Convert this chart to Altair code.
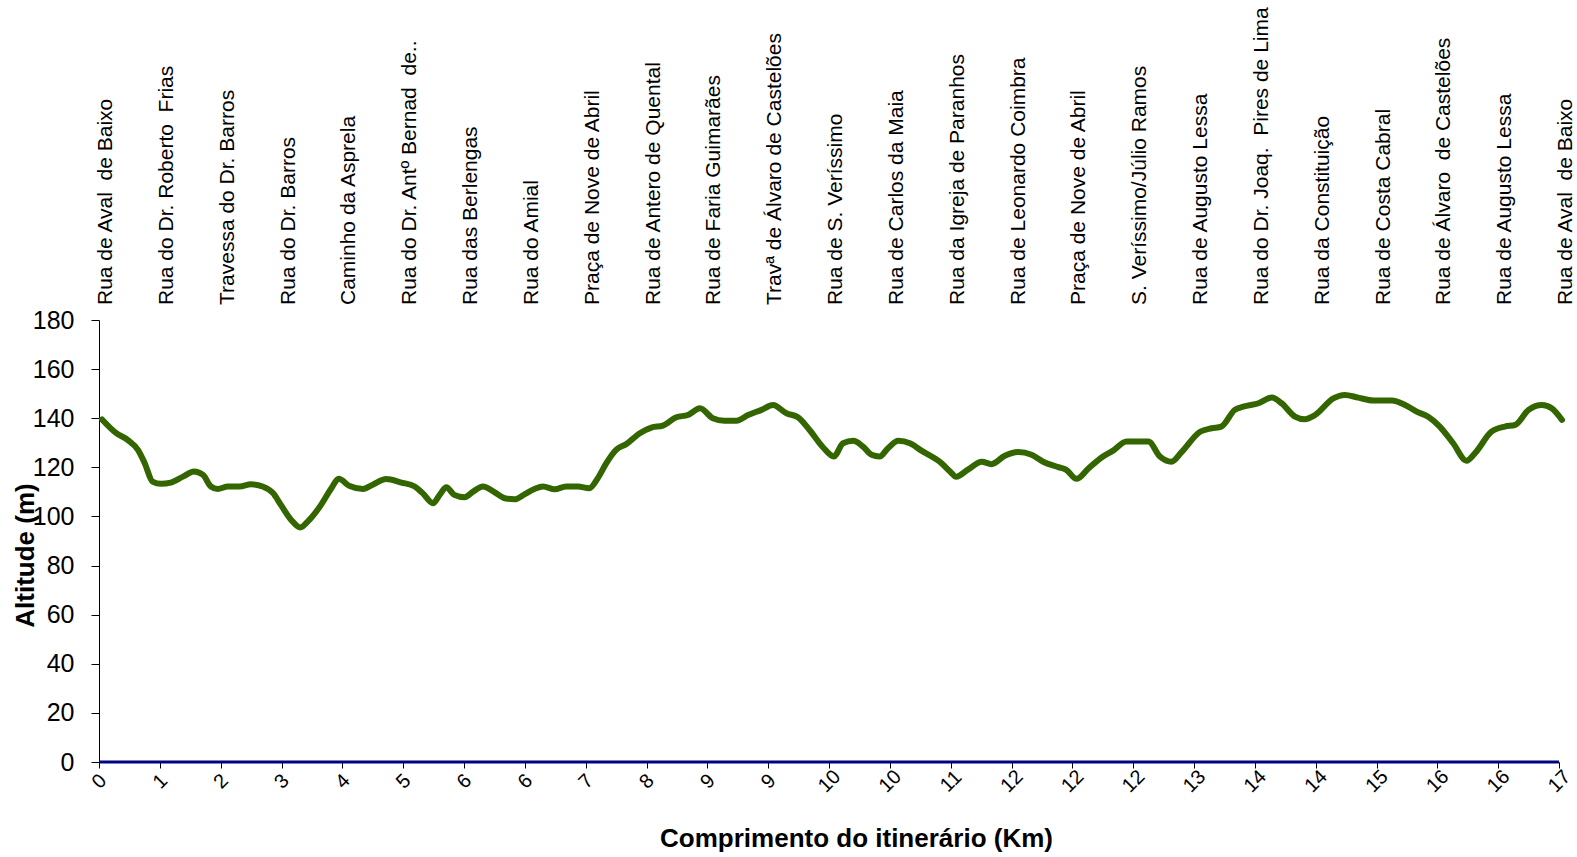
import altair as alt
import pandas as pd

NB = "\u00a0 "  # wider gap kept in some street names

# Street names along the route, one per tick
ruas = [
    "Rua de Aval" + NB + "de Baixo", "Rua do Dr. Roberto" + NB + "Frias", "Travessa do Dr. Barros",
    "Rua do Dr. Barros", "Caminho da Asprela", "Rua do Dr. Antº Bernad" + NB + "de..",
    "Rua das Berlengas", "Rua do Amial", "Praça de Nove de Abril",
    "Rua de Antero de Quental", "Rua de Faria Guimarães", "Travª de Álvaro de Castelões",
    "Rua de S. Veríssimo", "Rua de Carlos da Maia", "Rua da Igreja de Paranhos",
    "Rua de Leonardo Coimbra", "Praça de Nove de Abril", "S. Veríssimo/Júlio Ramos",
    "Rua de Augusto Lessa", "Rua do Dr. Joaq." + NB + "Pires de Lima", "Rua da Constituição",
    "Rua de Costa Cabral", "Rua de Álvaro" + NB + "de Castelões", "Rua de Augusto Lessa",
    "Rua de Aval" + NB + "de Baixo",
]

# Cumulative distance (km) shown under each tick
km = ["0", "1", "2", "3", "4", "5", "6", "6", "7", "8", "9", "9", "10", "10",
      "11", "12", "12", "12", "13", "14", "14", "15", "16", "16", "17"]

# Elevation profile: position along the route (tick units) and altitude (m)
posicao = [
    0.05, 0.28, 0.47, 0.64, 0.75, 0.88, 1.02, 1.18, 1.38, 1.56, 1.71, 1.84, 1.95,
    2.12, 2.31, 2.50, 2.69, 2.86, 2.99, 3.16, 3.31, 3.43, 3.65, 3.82, 3.94, 4.12,
    4.34, 4.50, 4.72, 4.97, 5.19, 5.32, 5.49, 5.60, 5.71, 5.84, 6.01, 6.15, 6.31,
    6.50, 6.67, 6.83, 7.00, 7.16, 7.30, 7.49, 7.68, 7.87, 8.06, 8.20, 8.34, 8.50,
    8.67, 8.89, 9.08, 9.27, 9.49, 9.68, 9.88, 10.09, 10.28, 10.48, 10.67, 10.89,
    11.08, 11.30, 11.49, 11.68, 11.90, 12.08, 12.23, 12.40, 12.56, 12.70, 12.83,
    12.97, 13.14, 13.33, 13.52, 13.85, 13.99, 14.09, 14.29, 14.51, 14.67, 14.89,
    15.11, 15.33, 15.52, 15.77, 15.90, 16.07, 16.26, 16.48, 16.67, 16.89, 17.08,
    17.25, 17.44, 17.63, 17.80, 18.10, 18.29, 18.45, 18.67, 18.81, 19.06, 19.28,
    19.44, 19.66, 19.82, 19.99, 20.29, 20.48, 20.70, 20.95, 21.25, 21.47, 21.66,
    21.85, 22.04, 22.26, 22.48, 22.62, 22.89, 23.11, 23.28, 23.50, 23.72, 23.88,
    24.05,
]
altitude = [
    139.5, 134.0, 131.2, 127.1, 121.8, 114.2, 113.3, 113.8, 116.2, 118.3, 116.9, 112.2, 111.2,
    112.2, 112.2, 113.1, 112.2, 109.5, 104.7, 98.6, 95.5, 97.9, 104.7, 111.5, 115.3, 112.4,
    111.2, 112.9, 115.2, 113.8, 112.2, 109.5, 105.4, 108.8, 111.9, 108.8, 107.8, 110.1, 112.2,
    109.9, 107.4, 107.0, 109.1, 111.2, 112.2, 111.1, 112.2, 112.2, 111.5, 115.6, 121.7, 127.1,
    129.5, 133.9, 136.2, 137.0, 140.4, 141.3, 144.1, 140.0, 139.0, 139.0, 141.3, 143.4,
    145.4, 142.0, 140.4, 135.2, 128.2, 124.4, 129.8, 130.8, 128.4, 125.1, 124.4,
    127.8, 130.8, 129.8, 126.8, 121.7, 118.3, 116.2, 119.2, 122.3, 121.3, 124.7,
    126.2, 125.1, 122.3, 120.1, 119.0, 115.3, 119.4, 124.0, 126.8, 130.5, 130.5,
    130.5, 124.4, 122.3, 126.3, 134.5, 135.9, 136.6, 143.4, 144.7, 146.1, 148.4,
    146.1, 140.7, 139.6, 141.3, 148.1, 149.5, 148.4, 147.2, 147.2, 145.4, 142.7,
    140.6, 136.6, 129.8, 122.7, 125.8, 134.5, 136.6, 137.3, 143.4, 145.4, 144.1,
    139.3,
]

# Reference series at altitude zero
zero_pos = [0, 24]
zero_alt = [0, 0]

FONT = "Liberation Sans"

perfil = pd.DataFrame({"pos": posicao, "alt": altitude})
zero = pd.DataFrame({"pos": zero_pos, "alt": zero_alt})
topo = pd.DataFrame({"pos": list(range(len(ruas))), "rua": ruas})

km_expr = "[" + ",".join("'%s'" % k for k in km) + "][datum.value]"

x_scale = alt.Scale(domain=[0, 24], nice=False, zero=False)
y_scale = alt.Scale(domain=[0, 180], nice=False)

x_axis = alt.Axis(
    values=list(range(len(km))),
    labelExpr=km_expr,
    labelAngle=315,
    labelAlign="center",
    labelBaseline="middle",
    labelPadding=13,
    labelFontSize=20,
    labelFont=FONT,
    labelColor="black",
    tickSize=6,
    tickColor="black",
    domainColor="black",
    grid=False,
    title="Comprimento do itinerário (Km)",
    titleFont=FONT,
    titleFontSize=26,
    titleFontWeight="bold",
    titleColor="black",
    titleX=757,
    titleY=76,
    titleAlign="center",
    titleBaseline="middle",
)

y_axis = alt.Axis(
    values=list(range(0, 181, 20)),
    labelFontSize=25,
    labelFont=FONT,
    labelColor="black",
    labelPadding=17,
    tickSize=8,
    tickColor="black",
    domainColor="black",
    grid=False,
    title="Altitude (m)",
    titleFont=FONT,
    titleFontSize=26,
    titleFontWeight="bold",
    titleColor="black",
    titleAngle=270,
    titleX=-74,
    titleY=235,
    titleAlign="center",
    titleBaseline="middle",
)

linha_zero = alt.Chart(zero).mark_line(color="#000080", strokeWidth=3).encode(
    x=alt.X("pos:Q", scale=x_scale, axis=x_axis),
    y=alt.Y("alt:Q", scale=y_scale, axis=y_axis),
)

linha = alt.Chart(perfil).mark_line(
    color="#336600", strokeWidth=6, interpolate="monotone",
    strokeCap="round", strokeJoin="round",
).encode(
    x=alt.X("pos:Q", scale=x_scale),
    y=alt.Y("alt:Q", scale=y_scale),
)

nomes = alt.Chart(topo).mark_text(
    angle=270, align="left", baseline="middle", dy=7,
    fontSize=21, font=FONT, color="black",
).encode(
    x=alt.X("pos:Q", scale=x_scale),
    y=alt.value(-15),
    text="rua:N",
)

chart = (
    alt.layer(linha_zero, linha, nomes)
    .properties(
        width=1460,
        height=442,
        autosize=alt.AutoSizeParams(type="none"),
        padding={"left": 99, "top": 320, "right": 18, "bottom": 95},
        background="white",
    )
    .configure_view(stroke=None)
)

chart.save("out.html", embed_options={"renderer": "svg", "actions": False})
